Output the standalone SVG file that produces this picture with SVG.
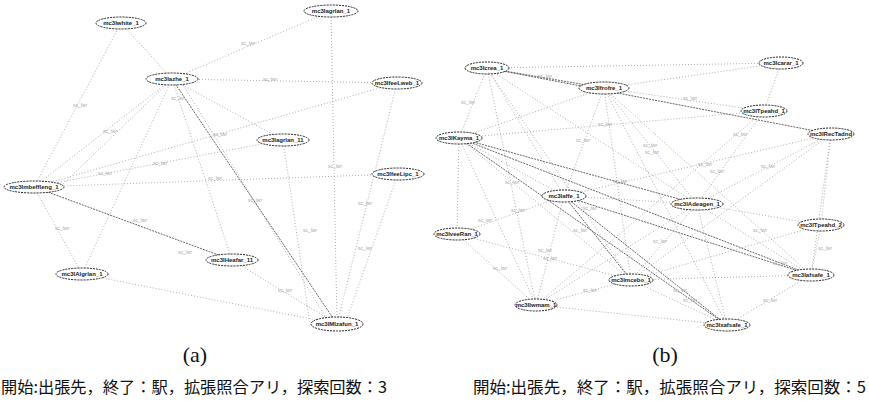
<svg xmlns="http://www.w3.org/2000/svg" width="869" height="401" viewBox="0 0 869 401">
<style>
.e{stroke:#9a9a9a;stroke-width:0.8;stroke-dasharray:1 2;fill:none}
.d{stroke:#555;stroke-width:0.9;stroke-dasharray:2 1;fill:none}
.n ellipse{fill:#fff;stroke:#222;stroke-width:1;stroke-dasharray:2 1}
.n text{font-family:"Liberation Sans",Arial,sans-serif;font-size:6px;font-weight:bold;fill:#222;text-anchor:middle}
.l{font-family:"Liberation Sans",Arial,sans-serif;font-size:5px;fill:#aaa;text-anchor:middle}
.cap{font-family:"Noto Sans CJK JP",sans-serif;font-size:16px;fill:#111}
.sub{font-family:"Liberation Serif",serif;font-size:22px;fill:#111;text-anchor:middle}
</style>
<rect width="869" height="401" fill="#fff"/>
<g id="edges-a">
<line class="e" x1="121" y1="23" x2="34" y2="187"/>
<line class="e" x1="121" y1="23" x2="172" y2="79"/>
<line class="e" x1="331" y1="11" x2="172" y2="79"/>
<line class="e" x1="331" y1="11" x2="337" y2="324"/>
<line class="e" x1="172" y1="79" x2="397" y2="83"/>
<line class="d" x1="172" y1="79" x2="337" y2="324"/>
<line class="e" x1="172" y1="79" x2="232" y2="260"/>
<line class="e" x1="172" y1="79" x2="283" y2="140"/>
<line class="e" x1="172" y1="79" x2="34" y2="187"/>
<line class="e" x1="172" y1="79" x2="82" y2="274"/>
<line class="e" x1="397" y1="83" x2="34" y2="187"/>
<line class="e" x1="397" y1="83" x2="337" y2="324"/>
<line class="e" x1="283" y1="140" x2="34" y2="187"/>
<line class="e" x1="283" y1="140" x2="310" y2="324"/>
<line class="e" x1="398" y1="174" x2="34" y2="187"/>
<line class="e" x1="398" y1="174" x2="345" y2="324"/>
<line class="d" x1="34" y1="187" x2="232" y2="260"/>
<line class="e" x1="34" y1="187" x2="82" y2="274"/>
<line class="e" x1="82" y1="274" x2="337" y2="324"/>
<line class="e" x1="232" y1="260" x2="337" y2="324"/>
<line class="e" x1="180" y1="80" x2="330" y2="324"/>
<line class="e" x1="172" y1="79" x2="60" y2="187"/>
</g>
<g id="edge-labels-a">
<text class="l" x="80" y="107">sc_lwr</text>
<text class="l" x="248" y="45">sc_lwr</text>
<text class="l" x="270" y="81">sc_lwr</text>
<text class="l" x="178" y="100">sc_lwr</text>
<text class="l" x="220" y="136">sc_lwr</text>
<text class="l" x="110" y="133">sc_lwr</text>
<text class="l" x="160" y="165">sc_lwr</text>
<text class="l" x="105" y="175">sc_lwr</text>
<text class="l" x="215" y="180">sc_lwr</text>
<text class="l" x="255" y="202">sc_lwr</text>
<text class="l" x="62" y="230">sc_lwr</text>
<text class="l" x="140" y="222">sc_lwr</text>
<text class="l" x="310" y="232">sc_lwr</text>
<text class="l" x="365" y="205">sc_lwr</text>
<text class="l" x="365" y="250">sc_lwr</text>
<text class="l" x="185" y="254">sc_lwr</text>
<text class="l" x="285" y="292">sc_lwr</text>
<text class="l" x="335" y="168">sc_lwr</text>
</g>
<g id="a1" class="n"><ellipse cx="121" cy="23" rx="25" ry="6"/><text x="121" y="25">mc3Iwhite_1</text></g>
<g id="a2" class="n"><ellipse cx="331" cy="11" rx="27" ry="6"/><text x="331" y="13">mc3Iagrlan_1</text></g>
<g id="a3" class="n"><ellipse cx="172" cy="79" rx="26" ry="6"/><text x="172" y="81">mc3Iazhe_1</text></g>
<g id="a4" class="n"><ellipse cx="397" cy="83" rx="25" ry="6"/><text x="397" y="85">mc3IfeeLweb_1</text></g>
<g id="a5" class="n"><ellipse cx="283" cy="140" rx="26" ry="6"/><text x="283" y="142">mc3Iagrlan_11</text></g>
<g id="a6" class="n"><ellipse cx="398" cy="174" rx="26" ry="6"/><text x="398" y="176">mc3IfeeLipc_1</text></g>
<g id="a7" class="n"><ellipse cx="34" cy="187" rx="30" ry="6"/><text x="34" y="189">mc3Imbeffleng_1</text></g>
<g id="a8" class="n"><ellipse cx="232" cy="260" rx="26" ry="6"/><text x="232" y="262">mc3IHeafar_11</text></g>
<g id="a9" class="n"><ellipse cx="82" cy="274" rx="26" ry="6"/><text x="82" y="276">mc3IAlgrlan_1</text></g>
<g id="a10" class="n"><ellipse cx="337" cy="324" rx="26" ry="7"/><text x="337" y="326">mc3IMIzafun_1</text></g>

<g id="edges-b">
<line class="e" x1="487" y1="68" x2="781" y2="63"/>
<line class="d" x1="487" y1="68" x2="604" y2="88"/>
<line class="e" x1="487" y1="68" x2="459" y2="138"/>
<line class="d" x1="487" y1="68" x2="831" y2="134"/>
<line class="e" x1="487" y1="68" x2="564" y2="196"/>
<line class="e" x1="487" y1="68" x2="631" y2="280"/>
<line class="e" x1="487" y1="68" x2="536" y2="305"/>
<line class="e" x1="487" y1="68" x2="697" y2="204"/>
<line class="e" x1="604" y1="88" x2="764" y2="111"/>
<line class="e" x1="604" y1="88" x2="564" y2="196"/>
<line class="e" x1="604" y1="88" x2="697" y2="204"/>
<line class="e" x1="604" y1="88" x2="631" y2="280"/>
<line class="e" x1="604" y1="88" x2="727" y2="325"/>
<line class="e" x1="604" y1="88" x2="811" y2="275"/>
<line class="e" x1="604" y1="88" x2="459" y2="138"/>
<line class="e" x1="781" y1="63" x2="764" y2="111"/>
<line class="e" x1="781" y1="63" x2="604" y2="88"/>
<line class="e" x1="764" y1="111" x2="697" y2="204"/>
<line class="e" x1="764" y1="111" x2="459" y2="138"/>
<line class="e" x1="831" y1="134" x2="697" y2="204"/>
<line class="e" x1="831" y1="134" x2="811" y2="275"/>
<line class="e" x1="831" y1="134" x2="821" y2="225"/>
<line class="e" x1="831" y1="134" x2="631" y2="280"/>
<line class="e" x1="459" y1="138" x2="564" y2="196"/>
<line class="d" x1="459" y1="138" x2="811" y2="275"/>
<line class="d" x1="459" y1="138" x2="727" y2="325"/>
<line class="e" x1="459" y1="138" x2="631" y2="280"/>
<line class="e" x1="459" y1="138" x2="536" y2="305"/>
<line class="e" x1="459" y1="138" x2="457" y2="234"/>
<line class="d" x1="459" y1="138" x2="697" y2="204"/>
<line class="d" x1="564" y1="196" x2="631" y2="280"/>
<line class="e" x1="564" y1="196" x2="536" y2="305"/>
<line class="e" x1="564" y1="196" x2="697" y2="204"/>
<line class="d" x1="564" y1="196" x2="811" y2="275"/>
<line class="d" x1="564" y1="196" x2="727" y2="325"/>
<line class="e" x1="564" y1="196" x2="457" y2="234"/>
<line class="e" x1="697" y1="204" x2="811" y2="275"/>
<line class="e" x1="697" y1="204" x2="727" y2="325"/>
<line class="e" x1="697" y1="204" x2="631" y2="280"/>
<line class="e" x1="697" y1="204" x2="536" y2="305"/>
<line class="e" x1="697" y1="204" x2="821" y2="225"/>
<line class="e" x1="821" y1="225" x2="811" y2="275"/>
<line class="e" x1="821" y1="225" x2="631" y2="280"/>
<line class="e" x1="457" y1="234" x2="536" y2="305"/>
<line class="e" x1="457" y1="234" x2="631" y2="280"/>
<line class="e" x1="631" y1="280" x2="727" y2="325"/>
<line class="e" x1="631" y1="280" x2="811" y2="275"/>
<line class="e" x1="631" y1="280" x2="536" y2="305"/>
<line class="e" x1="811" y1="275" x2="727" y2="325"/>
<line class="e" x1="536" y1="305" x2="727" y2="325"/>
<line class="e" x1="764" y1="111" x2="536" y2="305"/>
<line class="e" x1="831" y1="134" x2="564" y2="196"/>
</g>
<g id="edge-labels-b">
<text class="l" x="545" y="78">sc_lwr</text>
<text class="l" x="468" y="104">sc_lwr</text>
<text class="l" x="690" y="100">sc_lwr</text>
<text class="l" x="605" y="126">sc_lwr</text>
<text class="l" x="583" y="142">sc_lwr</text>
<text class="l" x="650" y="147">sc_lwr</text>
<text class="l" x="652" y="154">sc_lwr</text>
<text class="l" x="740" y="136">sc_lwr</text>
<text class="l" x="705" y="166">sc_lwr</text>
<text class="l" x="717" y="173">sc_lwr</text>
<text class="l" x="768" y="168">sc_lwr</text>
<text class="l" x="620" y="183">sc_lwr</text>
<text class="l" x="512" y="184">sc_lwr</text>
<text class="l" x="518" y="212">sc_lwr</text>
<text class="l" x="590" y="210">sc_lwr</text>
<text class="l" x="580" y="232">sc_lwr</text>
<text class="l" x="660" y="243">sc_lwr</text>
<text class="l" x="485" y="222">sc_lwr</text>
<text class="l" x="545" y="252">sc_lwr</text>
<text class="l" x="550" y="260">sc_lwr</text>
<text class="l" x="825" y="250">sc_lwr</text>
<text class="l" x="760" y="232">sc_lwr</text>
<text class="l" x="780" y="265">sc_lwr</text>
<text class="l" x="500" y="270">sc_lwr</text>
<text class="l" x="590" y="292">sc_lwr</text>
<text class="l" x="680" y="292">sc_lwr</text>
<text class="l" x="690" y="302">sc_lwr</text>
<text class="l" x="770" y="302">sc_lwr</text>
</g>
<g id="b1" class="n"><ellipse cx="487" cy="68" rx="22" ry="6"/><text x="487" y="70">mc3Icrea_1</text></g>
<g id="b2" class="n"><ellipse cx="604" cy="88" rx="25" ry="6"/><text x="604" y="90">mc3Ifrofre_1</text></g>
<g id="b3" class="n"><ellipse cx="781" cy="63" rx="22" ry="6"/><text x="781" y="65">mc3Icarar_1</text></g>
<g id="b4" class="n"><ellipse cx="764" cy="111" rx="23" ry="6"/><text x="764" y="113">mc3ITpeahd_1</text></g>
<g id="b5" class="n"><ellipse cx="831" cy="134" rx="23" ry="6"/><text x="831" y="136">mc3IRecTadnd</text></g>
<g id="b6" class="n"><ellipse cx="459" cy="138" rx="23" ry="6"/><text x="459" y="140">mc3IKayma_1</text></g>
<g id="b7" class="n"><ellipse cx="564" cy="196" rx="22" ry="6"/><text x="564" y="198">mc3Iaffe_1</text></g>
<g id="b8" class="n"><ellipse cx="697" cy="204" rx="26" ry="6"/><text x="697" y="206">mc3IAdeagen_1</text></g>
<g id="b9" class="n"><ellipse cx="821" cy="225" rx="23" ry="6"/><text x="821" y="227">mc3ITpeahd_2</text></g>
<g id="b10" class="n"><ellipse cx="457" cy="234" rx="23" ry="6"/><text x="457" y="236">mc3IveeRan_1</text></g>
<g id="b11" class="n"><ellipse cx="631" cy="280" rx="22" ry="6"/><text x="631" y="282">mc3Imcebo_1</text></g>
<g id="b12" class="n"><ellipse cx="811" cy="275" rx="23" ry="6"/><text x="811" y="277">mc3Iafsafe_1</text></g>
<g id="b13" class="n"><ellipse cx="536" cy="305" rx="21" ry="6"/><text x="536" y="307">mc3Ilwmam_1</text></g>
<g id="b14" class="n"><ellipse cx="727" cy="325" rx="23" ry="6"/><text x="727" y="327">mc3Ixafsafe_1</text></g>

<text class="sub" x="195" y="362">(a)</text>
<text class="sub" x="665" y="362">(b)</text>
<text class="cap" x="1" y="393" textLength="386" lengthAdjust="spacingAndGlyphs">開始:出張先，終了：駅，拡張照合アリ，探索回数：3</text>
<text class="cap" x="473" y="393" textLength="393" lengthAdjust="spacingAndGlyphs">開始:出張先，終了：駅，拡張照合アリ，探索回数：5</text>
</svg>
